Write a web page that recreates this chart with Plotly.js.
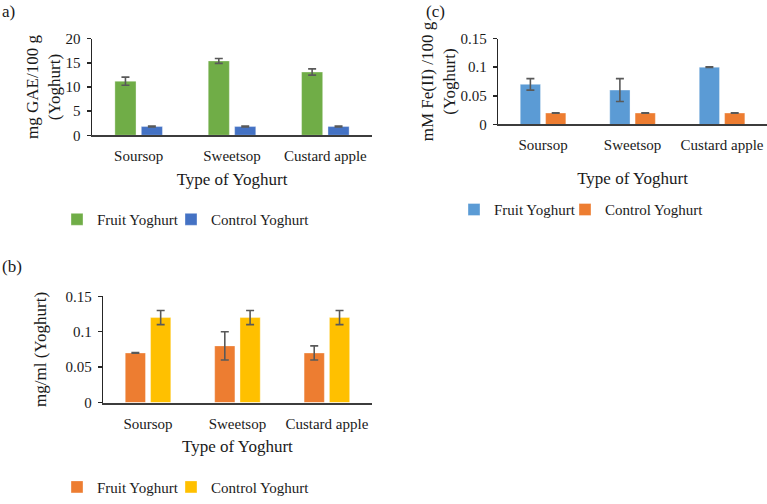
<!DOCTYPE html>
<html>
<head>
<meta charset="utf-8">
<script src="https://cdn.plot.ly/plotly-3.0.1.min.js"></script>
<style>html,body{margin:0;padding:0;background:#fff;}#chart{width:767px;height:504px;}</style>
</head>
<body>
<div id="chart"></div>
<script>
// ---- data ----
const categories = ["Soursop", "Sweetsop", "Custard apple"];
const seriesNames = ["Fruit Yoghurt", "Control Yoghurt"];

// (a) mg GAE/100 g
const aFruit = [11.2, 15.4, 13.1];
const aFruitErr = [0.85, 0.5, 0.65];
const aControl = [1.8, 1.8, 1.8];
const aControlErr = [0.1, 0.1, 0.1];

// (c) mM Fe(II)/100 g
const cFruit = [0.07, 0.06, 0.10];
const cFruitErr = [0.01, 0.02, 0.0005];
const cControl = [0.02, 0.02, 0.02];
const cControlErr = [0.0005, 0.0005, 0.0005];

// (b) mg/ml
const bFruit = [0.07, 0.08, 0.07];
const bFruitErr = [0.0005, 0.02, 0.01];
const bControl = [0.12, 0.12, 0.12];
const bControlErr = [0.01, 0.01, 0.01];

const yTicksA = [0, 5, 10, 15, 20];
const yTicksBC = [0, 0.05, 0.1, 0.15];

// ---- styling ----
const FONT = "Liberation Serif";
const TXT = "#1a1a1a";
const errStyle = (arr) => ({type: "data", array: arr, visible: true, color: "#595959", thickness: 1.6, width: 4});

function bar(y, err, name, color, xa, ya, leg) {
  return {type: "bar", x: categories, y: y, name: name, error_y: errStyle(err),
    marker: {color: color, line: {color: "rgba(255,255,255,0.35)", width: 1}},
    xaxis: xa, yaxis: ya, legend: leg, hoverinfo: "skip"};
}

const traces = [
  bar(aFruit, aFruitErr, seriesNames[0], "#70AD47", "x", "y", "legend"),
  bar(aControl, aControlErr, seriesNames[1], "#4472C4", "x", "y", "legend2"),
  bar(cFruit, cFruitErr, seriesNames[0], "#5B9BD5", "x2", "y2", "legend3"),
  bar(cControl, cControlErr, seriesNames[1], "#ED7D31", "x2", "y2", "legend4"),
  bar(bFruit, bFruitErr, seriesNames[0], "#ED7D31", "x3", "y3", "legend5"),
  bar(bControl, bControlErr, seriesNames[1], "#FFC000", "x3", "y3", "legend6")
];

function xAxis(domain, anchor, standoff) {
  return {domain: domain, anchor: anchor, type: "category", showline: true, linecolor: "#3c3c3c", linewidth: 2,
    ticks: "", showgrid: false, zeroline: false, fixedrange: true, ticklabelstandoff: 6,
    tickfont: {family: FONT, size: 15, color: TXT},
    title: {text: "Type of Yoghurt", font: {family: FONT, size: 17, color: TXT}, standoff: standoff}};
}
function yAxis(domain, anchor, range, tickvals, title, standoff) {
  return {domain: domain, anchor: anchor, range: range, tickmode: "array", tickvals: tickvals,
    showline: true, linecolor: "#262626", linewidth: 1.5, ticks: "outside", ticklen: 4, tickcolor: "#262626", tickwidth: 1.5,
    showgrid: false, zeroline: false, fixedrange: true, ticklabelstandoff: 3,
    tickfont: {family: FONT, size: 15, color: TXT},
    title: {text: title, font: {family: FONT, size: 17, color: TXT}, standoff: standoff}};
}

const legFont = {family: FONT, size: 15, color: TXT};
function legend(textLeft, yCenter) {
  return {orientation: "h", x: (textLeft - 40) / 767, y: 1 - yCenter / 504, xanchor: "left", yanchor: "middle",
    font: legFont, bgcolor: "rgba(0,0,0,0)", itemclick: false};
}

const layout = {
  width: 767, height: 504,
  margin: {l: 0, r: 0, t: 0, b: 0},
  paper_bgcolor: "#fff", plot_bgcolor: "#fff",
  barmode: "group", bargap: 0.434, bargroupgap: 0.2,
  font: {family: FONT, size: 15, color: TXT},
  xaxis: xAxis([92/767, 372/767], "y", 10),
  yaxis: yAxis([1 - 138/504, 1 - 39.5/504], "x", [0, 20], yTicksA, "mg GAE/100 g<br>(Yoghurt)", 0),
  xaxis2: xAxis([498.3/767, 766.8/767], "y2", 20),
  yaxis2: yAxis([1 - 127/504, 1 - 39.3/504], "x2", [0, 0.15], yTicksBC, "mM Fe(II) /100 g<br>(Yoghurt)", 0),
  xaxis3: xAxis([103.3/767, 371.6/767], "y3", 10),
  yaxis3: yAxis([1 - 410.7/504, 1 - 302.3/504], "x3", [0, 0.15], yTicksBC, "mg/ml (Yoghurt)", 14),
  legend: legend(97, 224),
  legend2: legend(211, 224),
  legend3: legend(494, 214),
  legend4: legend(605, 214),
  legend5: legend(97, 497),
  legend6: legend(211, 497),
  showlegend: true,
  annotations: [
    {text: "a)", xref: "paper", yref: "paper", x: 0, y: 1 - 12/504, xanchor: "left", yanchor: "middle", showarrow: false, font: {family: FONT, size: 17, color: TXT}},
    {text: "(c)", xref: "paper", yref: "paper", x: 424/767, y: 1 - 12/504, xanchor: "left", yanchor: "middle", showarrow: false, font: {family: FONT, size: 17, color: TXT}},
    {text: "(b)", xref: "paper", yref: "paper", x: 0, y: 1 - 272/504, xanchor: "left", yanchor: "middle", showarrow: false, font: {family: FONT, size: 17, color: TXT}}
  ]
};

Plotly.newPlot("chart", traces, layout, {displayModeBar: false, staticPlot: true});
</script>
</body>
</html>
